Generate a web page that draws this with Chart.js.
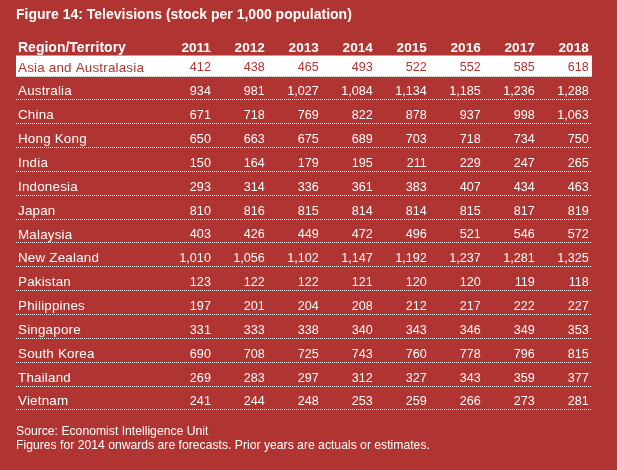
<!DOCTYPE html>
<html>
<head>
<meta charset="utf-8">
<script src="https://cdn.jsdelivr.net/npm/chart.js@4"></script>
<style>
  html, body { margin: 0; padding: 0; background: #b03431; }
  canvas { display: block; }
</style>
</head>
<body>
<canvas id="c" width="617" height="470"></canvas>
<script>
// ---- data ----
const years = ['2011', '2012', '2013', '2014', '2015', '2016', '2017', '2018'];
const regions = ['Asia and Australasia', 'Australia', 'China', 'Hong Kong', 'India', 'Indonesia',
  'Japan', 'Malaysia', 'New Zealand', 'Pakistan', 'Philippines', 'Singapore', 'South Korea',
  'Thailand', 'Vietnam'];
const asiaAustralasia = [412, 438, 465, 493, 522, 552, 585, 618];
const australia      = [934, 981, 1027, 1084, 1134, 1185, 1236, 1288];
const china          = [671, 718, 769, 822, 878, 937, 998, 1063];
const hongKong       = [650, 663, 675, 689, 703, 718, 734, 750];
const india          = [150, 164, 179, 195, 211, 229, 247, 265];
const indonesia      = [293, 314, 336, 361, 383, 407, 434, 463];
const japan          = [810, 816, 815, 814, 814, 815, 817, 819];
const malaysia       = [403, 426, 449, 472, 496, 521, 546, 572];
const newZealand     = [1010, 1056, 1102, 1147, 1192, 1237, 1281, 1325];
const pakistan       = [123, 122, 122, 121, 120, 120, 119, 118];
const philippines    = [197, 201, 204, 208, 212, 217, 222, 227];
const singapore      = [331, 333, 338, 340, 343, 346, 349, 353];
const southKorea     = [690, 708, 725, 743, 760, 778, 796, 815];
const thailand       = [269, 283, 297, 312, 327, 343, 359, 377];
const vietnam        = [241, 244, 248, 253, 259, 266, 273, 281];
const rowValues = [asiaAustralasia, australia, china, hongKong, india, indonesia, japan,
  malaysia, newZealand, pakistan, philippines, singapore, southKorea, thailand, vietnam];
const headerLabel = 'Region/Territory';
const titleText = 'Figure 14: Televisions (stock per 1,000 population)';
const footerLines = ['Source: Economist Intelligence Unit',
  'Figures for 2014 onwards are forecasts. Prior years are actuals or estimates.'];
const highlightedRegion = 'Asia and Australasia';

// ---- style ----
const BG = '#b03431';
const FONT = '"Liberation Sans", Arial, Helvetica, sans-serif';

const datasets = regions.map((name, r) => ({
  label: name,
  data: rowValues[r].map((v, i) => ({ x: i, y: r + 1, v })),
  pointRadius: 0,
  pointHoverRadius: 0,
  showLine: false
}));

const fmt = v => v.toLocaleString('en-US');

const tablePlugin = {
  id: 'tablePlugin',
  beforeDraw(chart) {
    const ctx = chart.ctx;
    ctx.save();
    ctx.fillStyle = BG;
    ctx.fillRect(0, 0, chart.width, chart.height);
    ctx.restore();
  },
  beforeDatasetsDraw(chart) {
    const { ctx, chartArea: a, scales: { y } } = chart;
    ctx.save();
    // highlight band
    const hi = regions.indexOf(highlightedRegion) + 1;
    const top = y.getPixelForValue(hi - 0.48);
    const bot = y.getPixelForValue(hi + 0.4);
    ctx.fillStyle = '#ffffff';
    ctx.fillRect(a.left, top, a.right - a.left, bot - top);
    // dotted separators
    ctx.strokeStyle = 'rgba(255,255,255,0.95)';
    ctx.lineWidth = 1;
    ctx.setLineDash([1, 1]);
    for (let r = 1; r <= regions.length; r++) {
      const py = Math.round(y.getPixelForValue(r + 0.4)) - 0.5;
      ctx.beginPath();
      ctx.moveTo(a.left, py);
      ctx.lineTo(a.right, py);
      ctx.stroke();
    }
    ctx.restore();
  },
  afterDatasetsDraw(chart) {
    const { ctx, chartArea: a, scales: { x, y } } = chart;
    ctx.save();
    ctx.textAlign = 'left';
    ctx.textBaseline = 'alphabetic';
    // header
    const hy = y.getPixelForValue(0.52) - 3.5;
    ctx.fillStyle = '#ffffff';
    ctx.font = 'bold 14px ' + FONT;
    ctx.fillText(headerLabel, a.left + 2, hy);
    ctx.textAlign = 'right';
    ctx.font = 'bold 13.6px ' + FONT;
    years.forEach((yr, i) => ctx.fillText(yr, x.getPixelForValue(i), hy));
    // rows
    chart.data.datasets.forEach((ds, di) => {
      const meta = chart.getDatasetMeta(di);
      const isHi = ds.label === highlightedRegion;
      const color = isHi ? BG : '#ffffff';
      const cy = y.getPixelForValue(di + 1) + 4.6;
      ctx.fillStyle = color;
      ctx.textAlign = 'left';
      ctx.font = '13.4px ' + FONT;
      if ('letterSpacing' in ctx) ctx.letterSpacing = '0.2px';
      ctx.fillText(ds.label, a.left + 2, cy);
      if ('letterSpacing' in ctx) ctx.letterSpacing = '0px';
      ctx.textAlign = 'right';
      ctx.font = '12.6px ' + FONT;
      meta.data.forEach((pt, j) => {
        ctx.fillText(fmt(ds.data[j].v), pt.x, pt.y + 4.5);
      });
    });
    ctx.restore();
  }
};

new Chart(document.getElementById('c'), {
  type: 'scatter',
  data: { datasets },
  options: {
    responsive: false,
    animation: false,
    devicePixelRatio: 1,
    events: [],
    layout: { padding: { top: 7, left: 16, right: 25, bottom: 17.25 } },
    scales: {
      x: { type: 'linear', display: false, min: -3.61, max: 7.06 },
      y: { type: 'linear', display: false, min: -0.5, max: 16, reverse: true }
    },
    plugins: {
      legend: { display: false },
      tooltip: { enabled: false },
      title: {
        display: true, text: titleText, align: 'start', color: '#ffffff',
        font: { family: FONT, size: 14, weight: 'bold', lineHeight: 1.2 },
        padding: { top: 0, bottom: 7.4 }
      },
      subtitle: {
        display: true, text: footerLines, position: 'bottom', align: 'start', color: '#ffffff',
        font: { family: FONT, size: 12.2, weight: 'normal', lineHeight: 14 / 12.2 },
        padding: { top: 0, bottom: 0 }
      }
    }
  },
  plugins: [tablePlugin]
});
</script>
</body>
</html>
